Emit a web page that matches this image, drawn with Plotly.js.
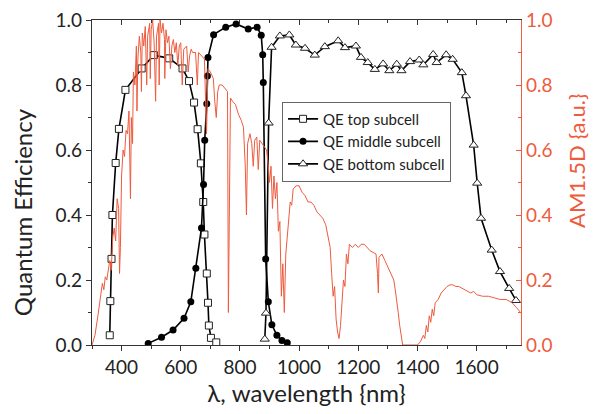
<!DOCTYPE html>
<html>
<head>
<meta charset="utf-8">
<script src="https://cdn.plot.ly/plotly-3.0.1.min.js"></script>
<style>html,body{margin:0;padding:0;background:#fff;}#chart{width:593px;height:414px;}</style>
</head>
<body>
<div id="chart"></div>
<script>
// QE top subcell
const wlTop = [360,362,366,369,380,391,413,468,509,561,606,628,645,657,668,676,680,688,692,695,702,720];
const qeTop = [0.03,0.135,0.265,0.40,0.56,0.665,0.785,0.851,0.892,0.882,0.851,0.812,0.746,0.664,0.559,0.44,0.34,0.22,0.13,0.06,0.022,0.008];
// QE middle subcell
const wlMid = [490,535,574,611,634,651,670,677,681,688,690,692,711,752,787,828,858,872,877,879,887,896,908,925,942,960];
const qeMid = [0.005,0.024,0.046,0.082,0.133,0.236,0.36,0.494,0.63,0.742,0.828,0.885,0.955,0.978,0.988,0.972,0.978,0.953,0.893,0.808,0.265,0.133,0.062,0.03,0.014,0.007];
// QE bottom subcell
const wlBot = [884,888,897,907,935,967,989,1020,1053,1087,1132,1155,1192,1209,1232,1256,1284,1305,1330,1346,1375,1406,1420,1453,1465,1497,1519,1550,1564,1590,1602,1615,1651,1679,1710,1733];
const qeBot = [0.018,0.098,0.683,0.916,0.951,0.954,0.923,0.913,0.892,0.918,0.936,0.915,0.92,0.885,0.869,0.848,0.865,0.844,0.864,0.844,0.872,0.877,0.862,0.894,0.869,0.893,0.879,0.838,0.767,0.615,0.498,0.39,0.292,0.226,0.174,0.137];
// AM1.5D spectrum (a.u.)
const wlSun = [300,310,320,330,335,340,345,350,355,360,365,370,375,380,385,390,393,396,400,405,410,415,420,425,430,433,437,440,445,450,452,455,460,465,467,470,475,480,485,488,495,497,500,505,510,515,518,525,527,530,535,540,545,546,550,555,560,565,570,575,580,585,590,595,600,605,610,620,625,630,635,640,650,656,660,670,680,687,692,700,710,715,720,725,730,740,750,758,761,765,768,775,785,795,805,812,818,822,826,834,840,845,850,857,862,867,875,884,890,895,900,905,910,915,920,925,930,935,940,945,950,955,960,965,970,975,980,990,1000,1010,1020,1030,1040,1050,1060,1070,1080,1090,1100,1105,1110,1115,1120,1125,1130,1135,1140,1145,1150,1155,1160,1165,1170,1180,1190,1200,1210,1220,1230,1240,1250,1260,1265,1268,1270,1280,1290,1300,1310,1320,1325,1330,1335,1340,1345,1350,1400,1410,1420,1425,1430,1435,1440,1445,1450,1455,1460,1470,1480,1490,1500,1510,1520,1530,1540,1550,1560,1570,1580,1590,1600,1620,1640,1660,1680,1700,1720,1735,1750];
const amSun = [0.0,0.03,0.09,0.16,0.19,0.17,0.21,0.2,0.24,0.26,0.23,0.33,0.36,0.32,0.45,0.42,0.22,0.3,0.52,0.6,0.58,0.66,0.65,0.72,0.45,0.70,0.62,0.84,0.80,0.92,0.72,0.88,0.95,0.90,0.78,0.96,0.92,0.98,0.80,0.95,0.99,0.82,0.97,1.0,0.93,0.75,0.95,0.99,0.80,1.0,0.96,0.99,0.94,0.82,0.97,0.93,0.95,0.85,0.92,0.94,0.90,0.93,0.86,0.92,0.93,0.80,0.91,0.92,0.84,0.89,0.91,0.90,0.90,0.80,0.90,0.89,0.88,0.65,0.85,0.84,0.82,0.75,0.70,0.78,0.80,0.80,0.79,0.78,0.10,0.55,0.76,0.75,0.74,0.71,0.69,0.67,0.55,0.40,0.62,0.65,0.62,0.55,0.63,0.64,0.54,0.63,0.62,0.61,0.60,0.56,0.50,0.55,0.42,0.52,0.45,0.50,0.35,0.38,0.15,0.25,0.10,0.28,0.33,0.40,0.44,0.43,0.48,0.49,0.49,0.47,0.46,0.44,0.44,0.43,0.41,0.40,0.39,0.37,0.33,0.30,0.22,0.15,0.18,0.08,0.04,0.02,0.06,0.13,0.20,0.18,0.28,0.25,0.31,0.30,0.31,0.30,0.31,0.31,0.30,0.29,0.285,0.28,0.22,0.16,0.27,0.28,0.26,0.24,0.22,0.20,0.17,0.14,0.10,0.06,0.03,0.0,0.0,0.01,0.03,0.02,0.06,0.04,0.09,0.07,0.11,0.09,0.13,0.14,0.16,0.17,0.18,0.185,0.185,0.18,0.18,0.175,0.17,0.165,0.16,0.165,0.155,0.15,0.15,0.145,0.14,0.14,0.13,0.115,0.098];

const RED = '#EE5B3E';
const FONT = 'Lato, "Open Sans", sans-serif';

const traces = [
  {x: wlSun, y: amSun, xaxis:'x', yaxis:'y2', mode:'lines', line:{color:RED, width:1}, showlegend:false, hoverinfo:'skip', name:'AM1.5D'},
  {x: wlTop, y: qeTop, xaxis:'x', yaxis:'y', mode:'lines+markers', name:'QE top subcell',
   line:{color:'#000', width:1.6}, marker:{symbol:'square', size:7, color:'#fff', line:{color:'#222', width:1}}},
  {x: wlMid, y: qeMid, xaxis:'x', yaxis:'y', mode:'lines+markers', name:'QE middle subcell',
   line:{color:'#000', width:1.6}, marker:{symbol:'circle', size:7, color:'#000', line:{color:'#000', width:0}}},
  {x: wlBot, y: qeBot, xaxis:'x', yaxis:'y', mode:'lines+markers', name:'QE bottom subcell',
   line:{color:'#000', width:1.6}, marker:{symbol:'triangle-up', size:8, color:'#fff', line:{color:'#222', width:1}}},
  {x: [null], y: [null], xaxis:'x2', yaxis:'y', mode:'lines', showlegend:false, hoverinfo:'skip'}
];

const layout = {
  width: 593, height: 414,
  margin: {l:92, r:72, t:20, b:69},
  paper_bgcolor:'#fff', plot_bgcolor:'#fff',
  font: {family: FONT, size: 19, color:'#222'},
  showlegend: true,
  legend: {x:0.443, y:0.749, xanchor:'left', yanchor:'top', bgcolor:'#fff', bordercolor:'#666', borderwidth:1,
           font:{family:FONT, size:15, color:'#222'}, tracegroupgap:0},
  xaxis: {range:[300,1750], dtick:200, tick0:0, ticks:'outside', ticklen:5, tickwidth:1, tickcolor:'#333',
          showline:true, linecolor:'#333', linewidth:1.2, mirror:true, showgrid:false, zeroline:false,
          minor:{dtick:100, tick0:0, ticks:'outside', ticklen:3, tickcolor:'#333', showgrid:false},
          tickfont:{family:FONT, size:19, color:'#222'},
          title:{text:'λ, wavelength {nm}', font:{family:FONT, size:24, color:'#222'}, standoff:6}},
  xaxis2: {range:[300,1750], overlaying:'x', side:'top', anchor:'y', dtick:200, tick0:0, ticks:'inside', ticklen:5,
           tickcolor:'#333', showticklabels:false, showline:false, showgrid:false, zeroline:false,
           minor:{dtick:100, tick0:0, ticks:'inside', ticklen:3, tickcolor:'#333', showgrid:false}},
  yaxis: {range:[0,1], dtick:0.2, tickformat:'.1f', ticks:'outside', ticklen:5, tickcolor:'#333',
          showline:true, linecolor:'#333', linewidth:1.2, showgrid:false, zeroline:false,
          minor:{dtick:0.1, ticks:'outside', ticklen:3, tickcolor:'#333', showgrid:false},
          tickfont:{family:FONT, size:19, color:'#222'}},
  yaxis2: {range:[0,1], dtick:0.2, tickformat:'.1f', overlaying:'y', side:'right', anchor:'x',
           ticks:'inside', ticklen:5, tickcolor:RED, showline:true, linecolor:RED, linewidth:1.2,
           showgrid:false, zeroline:false,
           minor:{dtick:0.1, ticks:'inside', ticklen:3, tickcolor:RED, showgrid:false},
           tickfont:{family:FONT, size:19, color:RED}},
  annotations: [
    {text:'Quantum Efficiency', xref:'paper', yref:'paper', x:-0.163, y:0.409, xanchor:'center', yanchor:'middle',
     textangle:-90, showarrow:false, font:{family:FONT, size:24, color:'#222'}},
    {text:'AM1.5D {a.u.}', xref:'paper', yref:'paper', x:1.128, y:0.569, xanchor:'center', yanchor:'middle',
     textangle:-90, showarrow:false, font:{family:FONT, size:22, color:RED}}
  ]
};

Plotly.newPlot('chart', traces, layout, {displayModeBar:false, staticPlot:true});
</script>
</body>
</html>
